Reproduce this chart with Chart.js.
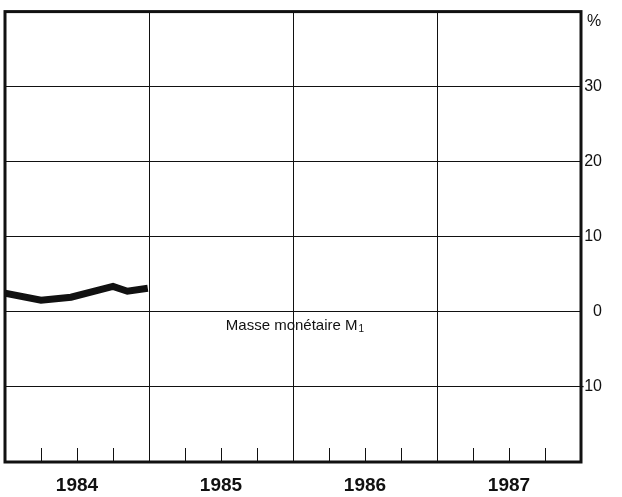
<!DOCTYPE html>
<html>
<head>
<meta charset="utf-8">
<script src="https://cdn.jsdelivr.net/npm/chart.js@4.4.1/dist/chart.umd.min.js"></script>
<style>
    body { margin: 0; background: #ffffff; }
    canvas { display: block; }
</style>
</head>
<body>
<canvas id="m1Chart" width="622" height="497"></canvas>
<script>
// months since Jan 1984, M1 growth in %
const monthPos = [0, 3, 5.5, 9, 10.2, 11.9];
const m1Values = [2.5, 1.55, 1.95, 3.4, 2.75, 3.15];
const years = ["1984", "1985", "1986", "1987"];
const quarterTicks = [3, 6, 9, 15, 18, 21, 27, 30, 33, 39, 42, 45];
const seriesLabel = "Masse monétaire M";

const ink = "#111111";

const frame = {
    id: "frame",
    afterDraw(chart) {
        const { ctx, chartArea } = chart;
        const xs = chart.scales.x;
        const ys = chart.scales.y;
        ctx.save();
        // quarter ticks pointing up from the bottom edge
        ctx.strokeStyle = ink;
        ctx.lineWidth = 1;
        quarterTicks.forEach((m) => {
            const px = Math.round(xs.getPixelForValue(m)) + 0.5;
            ctx.beginPath();
            ctx.moveTo(px, chartArea.bottom);
            ctx.lineTo(px, chartArea.bottom - 14);
            ctx.stroke();
        });
        // box
        ctx.lineWidth = 3;
        ctx.strokeRect(chartArea.left, chartArea.top, chartArea.right - chartArea.left, chartArea.bottom - chartArea.top);
        // unit
        ctx.fillStyle = ink;
        ctx.font = "16px 'Liberation Sans', Arial, sans-serif";
        ctx.textAlign = "left";
        ctx.textBaseline = "middle";
        ctx.fillText("%", chartArea.right + 6, ys.getPixelForValue(40) + 10);
        // series label
        ctx.font = "15px 'Liberation Sans', Arial, sans-serif";
        const lx = xs.getPixelForValue(18.4);
        const ly = ys.getPixelForValue(-1.8);
        ctx.fillText(seriesLabel, lx, ly);
        const w = ctx.measureText(seriesLabel).width;
        ctx.font = "10px 'Liberation Sans', Arial, sans-serif";
        ctx.fillText("1", lx + w + 1, ly + 4);
        ctx.restore();
    },
};

new Chart(document.getElementById("m1Chart").getContext("2d"), {
    type: "line",
    data: {
        datasets: [
            {
                data: monthPos.map((m, i) => ({ x: m, y: m1Values[i] })),
                borderColor: ink,
                borderWidth: 7,
                pointRadius: 0,
                tension: 0,
                borderJoinStyle: "miter",
                fill: false,
            },
        ],
    },
    options: {
        responsive: false,
        animation: false,
        layout: { padding: { left: 5, top: 10, right: 20, bottom: 0 } },
        plugins: {
            legend: { display: false },
            tooltip: { enabled: false },
        },
        scales: {
            x: {
                type: "linear",
                min: 0,
                max: 48,
                afterBuildTicks: (scale) => {
                    scale.ticks = [0, 6, 12, 18, 24, 30, 36, 42, 48].map((v) => ({ value: v }));
                },
                afterFit: (scale) => {
                    scale.height = 35;
                    scale.paddingLeft = 0;
                    scale.paddingRight = 0;
                },
                border: { display: false },
                grid: {
                    drawTicks: false,
                    lineWidth: 1,
                    color: (c) => (c.tick && c.tick.value % 12 === 0 ? ink : "rgba(0,0,0,0)"),
                },
                ticks: {
                    padding: 12,
                    maxRotation: 0,
                    autoSkip: false,
                    color: ink,
                    font: { family: "'Liberation Sans', Arial, sans-serif", size: 19, weight: "bold" },
                    callback: (v) => (v % 12 === 6 ? years[(v - 6) / 12] : ""),
                },
            },
            y: {
                position: "right",
                min: -20,
                max: 40,
                afterFit: (scale) => {
                    scale.width = 21;
                },
                border: { display: false },
                grid: {
                    drawTicks: false,
                    lineWidth: 1,
                    color: ink,
                },
                ticks: {
                    stepSize: 10,
                    padding: 2,
                    crossAlign: "far",
                    color: ink,
                    font: { family: "'Liberation Sans', Arial, sans-serif", size: 16 },
                    callback: (v) => (v === 40 || v === -20 ? "" : String(v)),
                },
            },
        },
    },
    plugins: [frame],
});
</script>
</body>
</html>
